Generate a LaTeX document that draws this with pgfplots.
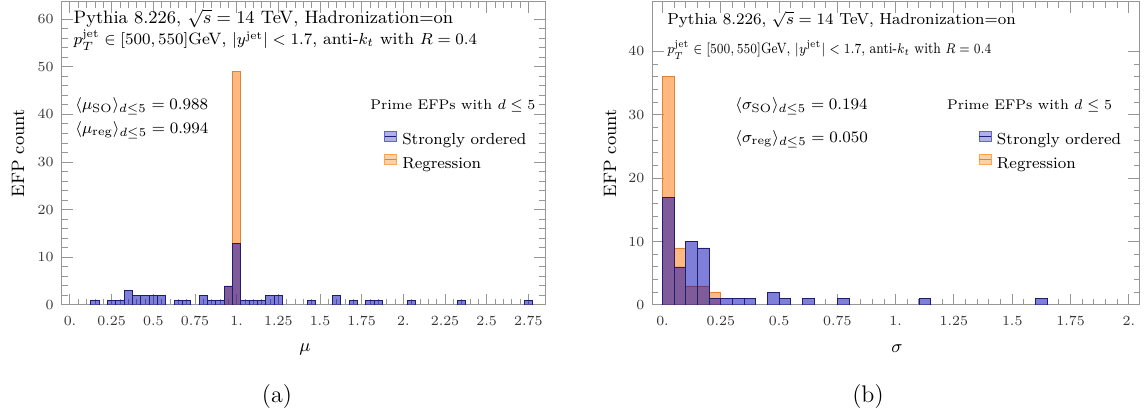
\documentclass[border=0pt]{standalone}
\usepackage{fontspec}
\usepackage{pgfplots}
\pgfplotsset{compat=1.18}
\definecolor{soFill}{RGB}{0,0,180}
\definecolor{soEdge}{RGB}{30,30,110}
\definecolor{rgFill}{RGB}{255,113,0}
\definecolor{rgEdge}{RGB}{225,130,50}
\definecolor{legSO}{RGB}{100,100,205}
\definecolor{legRG}{RGB}{255,165,75}
\definecolor{frameC}{RGB}{150,150,150}
\newcommand{\fs}[1]{\fontsize{#1}{#1}\selectfont}
\pgfplotsset{
  efp/.style={
    scale only axis, anchor=south west,
    axis line style={frameC, line width=0.5pt},
    tick style={frameC, line width=0.5pt},
    major tick length=5.5pt, minor tick length=2.8pt,
    tick align=inside,
    ymin=0,
    minor y tick num=4, minor x tick num=4,
    tick label style={font=\fs{7}, text=black!80},
    xticklabel style={yshift=-2.2pt},
    yticklabel style={xshift=-0.7pt},
    label style={font=\fs{9}},
    legend cell align=left,
    reverse legend,
    legend style={anchor=north west, draw=none, fill=none, inner sep=0pt, outer sep=0pt,
      font=\fs{8}, row sep=0pt,
      nodes={inner xsep=2.67pt, inner ysep=2.25pt, text height=5.6pt, text depth=1.6pt},
      /tikz/every odd column/.append style={column sep=0pt}},
  },
  rgbar/.style={ybar, bar width=0.05, bar shift=0pt, fill=rgFill, fill opacity=0.5,
    draw=rgEdge, line width=0.4pt,
    legend image code/.code={\fill[legRG] (0pt,-0.3pt) rectangle (5.85pt,4.7pt);
      \draw[rgEdge, line width=0.6pt] (0pt,2.2pt) -- (5.85pt,2.2pt);}},
  sobar/.style={ybar, bar width=0.05, bar shift=0pt, fill=soFill, fill opacity=0.5,
    draw=soEdge, line width=0.4pt,
    legend image code/.code={\fill[legSO] (0pt,-0.3pt) rectangle (5.85pt,4.7pt);
      \draw[soEdge, line width=0.6pt] (0pt,2.2pt) -- (5.85pt,2.2pt);}},
}
\begin{document}
\begin{tikzpicture}
\useasboundingbox (0,0) rectangle (572.5pt,208.5pt);
% ---------------- left panel (a)
\begin{axis}[efp, at={(31pt,56pt)}, width=241.5pt, height=151.5pt,
  xmin=-0.048, xmax=2.85, ymax=63.6,
  xtick={0,0.25,...,2.75},
  xticklabels={0.,0.25,0.5,0.75,1.,1.25,1.5,1.75,2.,2.25,2.5,2.75},
  ytick={0,10,...,60},
  xlabel={$\mu$}, ylabel={EFP count},
  xlabel style={at={(axis description cs:0.503,-0.145)}, anchor=center},
  ylabel style={at={(axis description cs:-0.091,0.5)}, anchor=center},
  legend style={at={(0.6667,0.581)}},
]
\addplot[rgbar] coordinates {(0.95,4)(1.0,49)};
\addlegendentry{Regression}
\addplot[sobar] coordinates {(0.15,1)(0.25,1)(0.3,1)(0.35,3)(0.4,2)(0.45,2)(0.5,2)(0.55,2)
 (0.65,1)(0.7,1)(0.8,2)(0.85,1)(0.9,1)(0.95,4)(1.0,13)(1.05,1)(1.1,1)(1.15,1)(1.2,2)(1.25,2)
 (1.45,1)(1.6,2)(1.7,1)(1.8,1)(1.85,1)(2.05,1)(2.35,1)(2.75,1)};
\addlegendentry{Strongly ordered}
\end{axis}
% ---------------- right panel (b)
\begin{axis}[efp, at={(326.35pt,56pt)}, width=243.3pt, height=151.5pt,
  xmin=-0.042, xmax=2.045, ymax=47.8,
  xtick={0,0.25,...,2},
  xticklabels={0.,0.25,0.5,0.75,1.,1.25,1.5,1.75,2.},
  ytick={0,10,...,40},
  xlabel={$\sigma$}, ylabel={EFP count},
  xlabel style={at={(axis description cs:0.502,-0.145)}, anchor=center},
  ylabel style={at={(axis description cs:-0.0877,0.5)}, anchor=center},
  legend style={at={(0.670,0.581)}},
]
\addplot[rgbar] coordinates {(0.025,36)(0.075,9)(0.125,3)(0.175,3)(0.225,2)};
\addlegendentry{Regression}
\addplot[sobar] coordinates {(0.025,17)(0.075,6)(0.125,10)(0.175,9)(0.225,1)(0.275,1)(0.325,1)
 (0.375,1)(0.475,2)(0.525,1)(0.625,1)(0.775,1)(1.125,1)(1.625,1)};
\addlegendentry{Strongly ordered}
\end{axis}
% ---------------- texts
\begin{scope}[every node/.style={inner sep=0pt, anchor=base west, font=\fs{8}}]
\node[font=\fs{9}] at (36.65pt,196.5pt) {Pythia 8.226, $\sqrt{s}=14$ TeV, Hadronization=on};
\node[font=\fs{8.25}] at (36.65pt,186pt) {$p_T^{\mathrm{jet}}\in[500,550]$GeV, $|y^{\mathrm{jet}}|<1.7$, anti-$k_t$ with $R=0.4$};
\node at (37.5pt,153.5pt) {$\langle\mu_{\mathrm{SO}}\rangle_{d\leq5}=0.988$};
\node at (37.5pt,141.5pt) {$\langle\mu_{\mathrm{reg}}\rangle_{d\leq5}=0.994$};
\node[font=\fs{7}] at (185pt,153.85pt) {Prime EFPs with $d\leq5$};
\node at (333.5pt,196.25pt) {Pythia 8.226, $\sqrt{s}=14$ TeV, Hadronization=on};
\node[font=\fs{7.5}, xscale=0.85, transform shape] at (333.5pt,181.5pt) {$p_T^{\mathrm{jet}}\in[500,550]$GeV, $|y^{\mathrm{jet}}|<1.7$, anti-$k_t$ with $R=0.4$};
\node at (367.5pt,153.5pt) {$\langle\sigma_{\mathrm{SO}}\rangle_{d\leq5}=0.194$};
\node at (367.5pt,137.35pt) {$\langle\sigma_{\mathrm{reg}}\rangle_{d\leq5}=0.050$};
\node[font=\fs{7}] at (473.35pt,153.85pt) {Prime EFPs with $d\leq5$};
\end{scope}
\node[font=\fs{12}] at (138.5pt,10pt) {(a)};
\node[font=\fs{12}] at (434pt,10pt) {(b)};
\end{tikzpicture}
\end{document}
